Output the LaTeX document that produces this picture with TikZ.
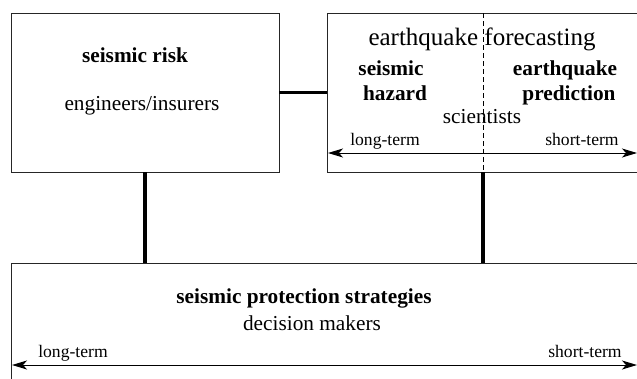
\documentclass[tikz,border=0pt]{standalone}
\usepackage{fontspec}
\setmainfont{Liberation Serif}
\usetikzlibrary{arrows.meta}
\begin{document}
\begin{tikzpicture}[x=1pt,y=-1pt,
  box/.style={draw=black!85, line width=0.8pt, anchor=north west, inner sep=0pt, outer sep=0pt},
  link/.style={line width=3.2pt},
  txt/.style={anchor=base, inner sep=0pt, font=\fontsize{21.3}{24}\selectfont},
  btxt/.style={txt, font=\fontsize{21.3}{24}\selectfont\bfseries},
  stxt/.style={anchor=base, inner sep=0pt, font=\fontsize{17.6}{20}\selectfont},
  tip/.style={Stealth[length=15pt,width=9pt,inset=4pt]},
  span/.style={line width=1pt, {Stealth[length=15pt,width=9pt,inset=4pt]}-{Stealth[length=15pt,width=9pt,inset=4pt]}}]
\useasboundingbox (0,0) rectangle (637,378);
\clip (0,0) rectangle (637,378);
% boxes
\node[box, minimum width=268pt, minimum height=159pt] (risk) at (11,13) {};
\node[box, minimum width=330pt, minimum height=159pt] (fore) at (327,13) {};
\node[box, minimum width=640pt, minimum height=130pt] (prot) at (11,263) {};
% connectors
\coordinate (r1) at (145,172);
\coordinate (r2) at (145,263);
\coordinate (f1) at (483,172);
\coordinate (f2) at (483,263);
\draw[link] (risk.east) -- (fore.west |- risk.east);
\draw[link] (r1) -- (r2);
\draw[link] (f1) -- (f2);
% dashed divider
\coordinate (d1) at (483,13);
\coordinate (d2) at (483,172);
\draw[dashed, line width=0.8pt, dash pattern=on 5pt off 3pt] (d1) -- (d2);
% left box text
\node[btxt] (t1) at (135,62) {seismic risk};
\node[txt] (t2) at (142,110) {engineers/insurers};
% right box text
\node[txt, font=\fontsize{25}{28}\selectfont] (t3) at (482,45) {earthquake forecasting};
\node[btxt] (t4) at (391,75) {seismic};
\node[btxt] (t5) at (395,100) {hazard};
\node[btxt] (t6) at (565,75) {earthquake};
\node[btxt] (t7) at (569,100) {prediction};
\node[txt] (t8) at (482,123) {scientists};
\node[stxt] (t9) at (385,145) {long-term};
\node[stxt] (t10) at (582,145) {short-term};
\coordinate (a1) at (328,153);
\coordinate (a2) at (637,153);
\draw[span] (a1) -- (a2);
% bottom box text
\node[btxt] (t11) at (304,303) {seismic protection strategies};
\node[txt] (t12) at (312,330) {decision makers};
\node[stxt] (t13) at (73,357) {long-term};
\node[stxt] (t14) at (585,357) {short-term};
\coordinate (b1) at (12,365);
\coordinate (b2) at (637,365);
\draw[span] (b1) -- (b2);
\end{tikzpicture}
\end{document}
